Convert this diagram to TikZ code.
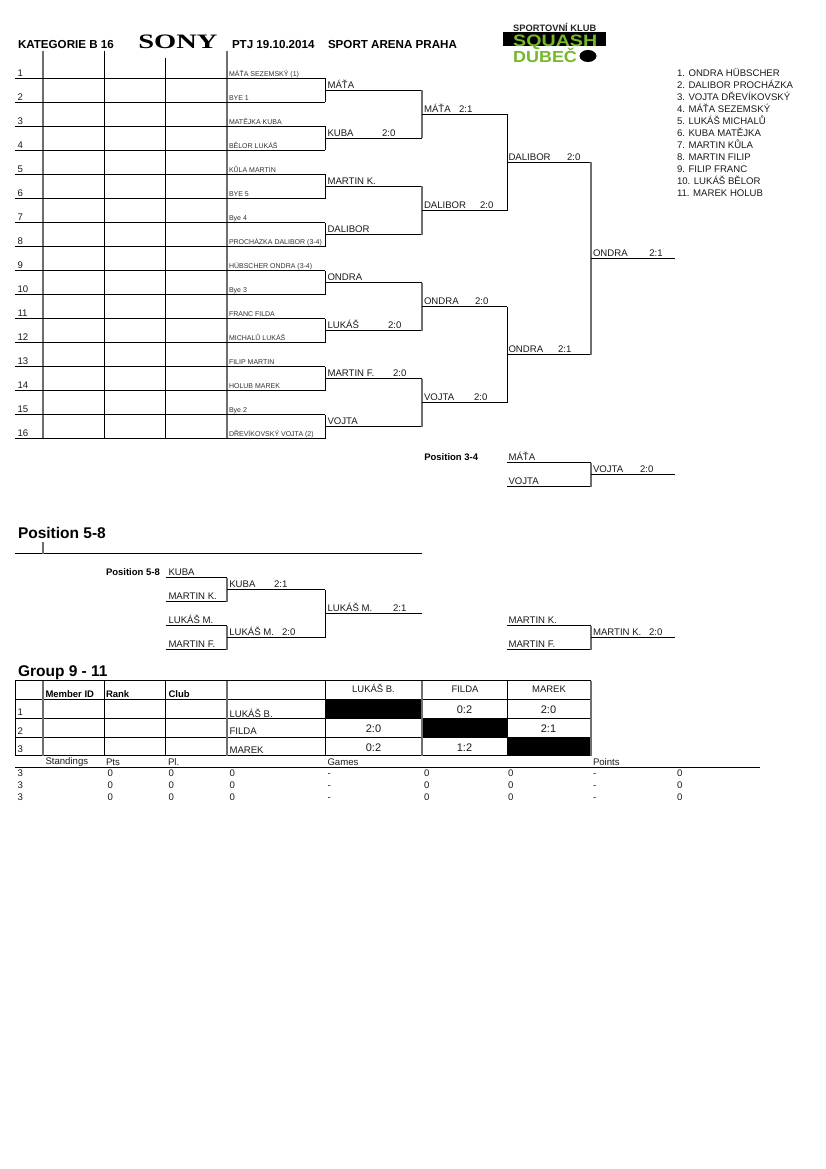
\documentclass[tikz,border=0pt]{standalone}
\usepackage{fontspec}
\setmainfont{Liberation Sans}
\newfontfamily\slabfont{Liberation Serif}
\definecolor{clubgreen}{HTML}{76B82A}
\definecolor{rulegray}{HTML}{6E6E6E}
\definecolor{inkdark}{HTML}{1A1A1A}
\newcommand{\fs}[1]{\fontsize{#1}{#1}\selectfont}
\tikzset{
  lbl/.style={anchor=base west,inner sep=0pt,outer sep=0pt,text=inkdark,font=\fs{9.6},yshift=-0.4pt},
  tiny/.style={lbl,font=\fs{7},text=black!80},
  head/.style={lbl,font=\bfseries\fs{11.6},text=black},
  big/.style={lbl,font=\bfseries\fs{15.5},text=black,yshift=0.4pt},
  boldlbl/.style={lbl,font=\bfseries\fs{9.5},text=black},
  mid/.style={anchor=base,inner sep=0pt,outer sep=0pt,text=inkdark,font=\fs{9.5}},
  score/.style={mid,font=\fs{11}},
  dark/.style={draw=black,line width=0.85pt},
  soft/.style={draw=rulegray,line width=1.3pt},
}
\begin{document}
\begin{tikzpicture}[x=1pt,y=-1pt]
\fill[white] (0,0) rectangle (826,1169);
\useasboundingbox (0,0) rectangle (826,1169);

% --- column rules of the entry sheet
\foreach \cx/\top/\st/\nm in {43/51/soft/A,104.5/51/dark/B,165.5/58/dark/C,227/51/soft/D}{
  \coordinate (col\nm top) at (\cx,\top);
  \coordinate (col\nm bot) at (\cx,438.5);
  \draw[\st] (col\nm top) -- (col\nm bot);
}

% --- first round lines, and the brackets joining each pair
\foreach \i in {1,...,16}{
  \pgfmathsetmacro\yy{78.5+24*(\i-1)}
  \coordinate (a\i) at (15,\yy);
  \coordinate (b\i) at (325,\yy);
  \draw[dark] (a\i) -- (b\i);
}
\foreach \k in {1,...,8}{
  \pgfmathtruncatemacro\up{2*\k-1}
  \pgfmathtruncatemacro\dn{2*\k}
  \pgfmathsetmacro\yy{90.5+48*(\k-1)}
  \coordinate (s\k) at (325,\yy);
  \coordinate (t\k) at (422,\yy);
  \draw[dark] (b\up) -- (b\dn);
  \draw[dark] (s\k) -- (t\k);
}
% --- quarter finals
\foreach \k in {1,...,4}{
  \pgfmathtruncatemacro\up{2*\k-1}
  \pgfmathtruncatemacro\dn{2*\k}
  \pgfmathsetmacro\yy{114.5+96*(\k-1)}
  \coordinate (u\k) at (422,\yy);
  \coordinate (v\k) at (507,\yy);
  \draw[soft] (t\up) -- (t\dn);
  \draw[dark] (u\k) -- (v\k);
}
% --- semi finals and final
\coordinate (w1) at (507,162.5); \coordinate (x1) at (591,162.5);
\coordinate (w2) at (507,354.5); \coordinate (x2) at (591,354.5);
\coordinate (fa) at (591,258.5); \coordinate (fb) at (675,258.5);
\draw[dark] (v1) -- (v2);
\draw[dark] (v3) -- (v4);
\draw[dark] (w1) -- (x1);
\draw[dark] (w2) -- (x2);
\draw[soft] (x1) -- (x2);
\draw[dark] (fa) -- (fb);

% --- play-off for third place
\coordinate (ca) at (507,462.5); \coordinate (cb) at (591,462.5);
\coordinate (cc) at (507,486.5); \coordinate (cd) at (591,486.5);
\coordinate (ce) at (591,474.5); \coordinate (cf) at (675,474.5);
\draw[dark] (ca) -- (cb);
\draw[dark] (cc) -- (cd);
\draw[soft] (cb) -- (cd);
\draw[dark] (ce) -- (cf);

% --- positions 5-8
\coordinate (ha) at (15,553.5); \coordinate (hb) at (422,553.5);
\coordinate (hc) at (43,542);   \coordinate (hd) at (43,553.5);
\draw[dark] (ha) -- (hb);
\draw[soft] (hc) -- (hd);
\foreach \y [count=\k] in {577.5,601.5,625.5,649.5}{
  \coordinate (da\k) at (166,\y);
  \coordinate (db\k) at (227,\y);
  \draw[dark] (da\k) -- (db\k);
}
\draw[soft] (db1) -- (db2);
\draw[soft] (db3) -- (db4);
\coordinate (ea) at (227,589.5); \coordinate (eb) at (325,589.5);
\coordinate (ec) at (227,637.5); \coordinate (ed) at (325,637.5);
\coordinate (ee) at (325,613.5); \coordinate (ef) at (422,613.5);
\draw[dark] (ea) -- (eb);
\draw[dark] (ec) -- (ed);
\draw[dark] (eb) -- (ed);
\draw[dark] (ee) -- (ef);
% second play-off on the right
\coordinate (ga) at (507,625.5); \coordinate (gb) at (591,625.5);
\coordinate (gc) at (507,649.5); \coordinate (gd) at (591,649.5);
\coordinate (ge) at (591,637.5); \coordinate (gf) at (675,637.5);
\draw[dark] (ga) -- (gb);
\draw[dark] (gc) -- (gd);
\draw[soft] (gb) -- (gd);
\draw[dark] (ge) -- (gf);

% --- group table
\fill[black] (325,699) rectangle (422,718);
\fill[black] (422,718) rectangle (507,737);
\fill[black] (507,737) rectangle (591,755.5);
\foreach \y [count=\k] in {680.5,699,718,737,755.5}{
  \coordinate (ra\k) at (15,\y);
  \coordinate (rb\k) at (591,\y);
  \draw[dark] (ra\k) -- (rb\k);
}
\foreach \cx/\st/\nm in {15/dark/a,43/soft/b,104.5/dark/c,165.5/dark/d,227/soft/e,325/dark/f,422/soft/g,507/dark/h,591/soft/i}{
  \coordinate (ct\nm) at (\cx,680.5);
  \coordinate (cb\nm) at (\cx,755.5);
  \draw[\st] (ct\nm) -- (cb\nm);
}
\coordinate (sa) at (15,767.5); \coordinate (sb) at (760,767.5);
\draw[dark] (sa) -- (sb);

% --- sheet header
\node[head] (title) at (18,48.3) {KATEGORIE B 16};
\node[anchor=base west,inner sep=0pt,font=\slabfont\bfseries\fs{20.5},xscale=1.39,transform shape] (sponsor) at (138,48.6) {SONY};
\node[head] (date) at (232,48.3) {PTJ 19.10.2014};
\node[head] (venue) at (328,48.3) {SPORT ARENA PRAHA};

% --- club emblem
\fill[black] (503,32) rectangle (606,46.5);
\node[anchor=base west,inner sep=0pt,font=\bfseries\fs{9.3},text=black!85] (clubline) at (513,31.2) {SPORTOVNÍ KLUB};
\node[anchor=base west,inner sep=0pt,font=\bfseries\fs{16.5},text=clubgreen,xscale=1.19,transform shape] (clubsquash) at (513,46.2) {SQUASH};
\node[anchor=base west,inner sep=0pt,font=\bfseries\fs{16},text=clubgreen,xscale=1.12,transform shape] (clubdubec) at (513,62.2) {DUBEČ};
\fill[black] (588,56) ellipse [x radius=8.5,y radius=6];

% --- draw numbers and entrants
\foreach \i in {1,...,16}{
  \pgfmathsetmacro\yy{76+24*(\i-1)}
  \node[lbl] (num\i) at (17.5,\yy) {\i};
}
\foreach \t [count=\k] in {MÁŤA SEZEMSKÝ (1),BYE 1,MATĚJKA KUBA,BĚLOR LUKÁŠ,KŮLA MARTIN,BYE 5,Bye 4,PROCHÁZKA DALIBOR (3-4),HÜBSCHER ONDRA (3-4),Bye 3,FRANC FILDA,MICHALŮ LUKÁŠ,FILIP MARTIN,HOLUB MAREK,Bye 2,DŘEVÍKOVSKÝ VOJTA (2)}{
  \pgfmathsetmacro\yy{76+24*(\k-1)}
  \node[tiny] (ent\k) at (229,\yy) {\t};
}

% --- winners and results along the main draw
\foreach \x/\y/\t [count=\k] in {
  327.5/87.7/MÁŤA, 327.5/135.7/KUBA, 382/135.7/2:0,
  327.5/183.7/MARTIN K., 327.5/231.7/DALIBOR,
  327.5/279.7/ONDRA, 327.5/327.7/LUKÁŠ, 388/327.7/2:0,
  327.5/375.7/MARTIN F., 393/375.7/2:0, 327.5/423.7/VOJTA,
  424/111.7/MÁŤA, 459/111.7/2:1,
  424/207.7/DALIBOR, 480/207.7/2:0,
  424/303.7/ONDRA, 475/303.7/2:0,
  424/399.7/VOJTA, 474/399.7/2:0,
  508.5/159.7/DALIBOR, 567/159.7/2:0,
  508.5/351.7/ONDRA, 558/351.7/2:1,
  593/255.7/ONDRA, 649.3/255.7/2:1,
  508.5/459.7/MÁŤA, 508.5/483.7/VOJTA,
  593/471.7/VOJTA, 640/471.7/2:0,
  168.5/575/KUBA, 168.5/599/MARTIN K.,
  168.5/623/LUKÁŠ M., 168.5/647/MARTIN F.,
  229.3/587/KUBA, 274/587/2:1,
  229.3/635/LUKÁŠ M., 282/635/2:0,
  327.5/611/LUKÁŠ M., 393/611/2:1,
  508.5/623/MARTIN K., 508.5/647/MARTIN F.,
  593/635/MARTIN K., 649/635/2:0}{
  \node[lbl] (res\k) at (\x,\y) {\t};
}

% --- final ranking
\foreach \t [count=\k] in {1. ONDRA HÜBSCHER,2. DALIBOR PROCHÁZKA,3. VOJTA DŘEVÍKOVSKÝ,4. MÁŤA SEZEMSKÝ,5. LUKÁŠ MICHALŮ,6. KUBA MATĚJKA,7. MARTIN KŮLA,8. MARTIN FILIP,9. FILIP FRANC,10. LUKÁŠ BĚLOR,11. MAREK HOLUB}{
  \pgfmathsetmacro\yy{76+12*(\k-1)}
  \node[lbl] (rank\k) at (677,\yy) {\t};
}

% --- section headings
\node[boldlbl] (pos34) at (424.3,459.7) {Position 3-4};
\node[big] (pos58big) at (18,538.3) {Position 5-8};
\node[boldlbl] (pos58) at (106,575) {Position 5-8};
\node[big] (group) at (18,676) {Group 9 - 11};

% --- group table contents
\node[boldlbl] (thA) at (45.5,696.7) {Member ID};
\node[boldlbl] (thB) at (106,696.7) {Rank};
\node[boldlbl] (thC) at (168.5,696.7) {Club};
\node[mid] (thD) at (373.5,692.7) {LUKÁŠ B.};
\node[mid] (thE) at (465,692.7) {FILDA};
\node[mid] (thF) at (549,692.7) {MAREK};
\node[lbl] (rn1) at (17.5,715) {1};
\node[lbl] (rn2) at (17.5,734) {2};
\node[lbl] (rn3) at (17.5,752) {3};
\node[lbl] (pl1) at (229.5,716.7) {LUKÁŠ B.};
\node[lbl] (pl2) at (229.5,734.3) {FILDA};
\node[lbl] (pl3) at (229.5,753) {MAREK};
\node[score] (m12) at (464.5,713.3) {0:2};
\node[score] (m13) at (548.5,713.3) {2:0};
\node[score] (m21) at (373.5,732) {2:0};
\node[score] (m23) at (548.5,732) {2:1};
\node[score] (m31) at (373.5,751) {0:2};
\node[score] (m32) at (464.5,751) {1:2};

% --- standings
\node[lbl] (stA) at (45.5,763.8) {Standings};
\node[lbl] (stB) at (106,765) {Pts};
\node[lbl] (stC) at (168,765) {Pl.};
\node[lbl] (stD) at (327.5,765) {Games};
\node[lbl] (stE) at (593,765) {Points};
\foreach \r/\y in {1/776,2/788,3/800}{
  \foreach \x/\t [count=\k] in {17.5/3,107.5/0,168.5/0,229.5/0,327.5/-,424/0,508/0,593/-,677/0}{
    \node[lbl] (cell\r-\k) at (\x,\y) {\t};
  }
}
\end{tikzpicture}
\end{document}
